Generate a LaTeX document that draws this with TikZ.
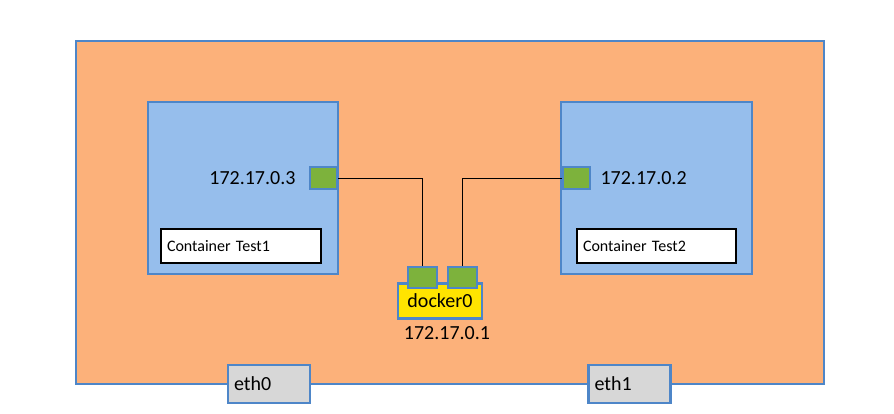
\documentclass[tikz,border=0pt]{standalone}
\usepackage{fontspec}
\setmainfont{Carlito}
\usetikzlibrary{positioning}

\definecolor{hostorange}{RGB}{252,177,122}
\definecolor{edgeblue}{RGB}{78,134,200}
\definecolor{boxblue}{RGB}{150,190,236}
\definecolor{portgreen}{RGB}{125,178,60}
\definecolor{bridgeyellow}{RGB}{255,228,0}
\definecolor{ethgrey}{RGB}{215,215,215}

\begin{document}
\begin{tikzpicture}[x=1pt, y=-1pt,
    every node/.style={font=\fontsize{20}{24}\selectfont},
    hostbox/.style={rectangle, draw=edgeblue, line width=2.5pt, fill=hostorange},
    ctbox/.style={rectangle, draw=edgeblue, line width=2.5pt, fill=boxblue, minimum width=190pt, minimum height=172pt},
    namebox/.style={rectangle, draw=black, line width=2.5pt, fill=white, minimum height=34pt, text width=148pt, inner xsep=6pt, align=left, font=\fontsize{16}{19}\selectfont},
    port/.style={rectangle, draw=edgeblue, line width=2pt, fill=portgreen, minimum width=27pt, minimum height=22pt, inner sep=0pt},
    ethbox/.style={rectangle, draw=edgeblue, line width=2.5pt, fill=ethgrey, minimum height=38pt, text width=70pt, inner xsep=6pt, align=left},
    wire/.style={draw=black, line width=1pt}]
    \useasboundingbox (0,0) rectangle (894,414);
    \fill[white] (0,0) rectangle (894,414);

    % host
    \node (host) [hostbox, minimum width=748pt, minimum height=343pt] at (450,212.5) {};

    % containers
    \node (ct1) [ctbox] at (243,188) {};
    \node (ct2) [ctbox, minimum width=191pt] at (656.5,188) {};
    \node (name1) [namebox] at (241,246) {Container Test1};
    \node (name2) [namebox, text width=147pt] at (656.5,246) {Container Test2};

    % veth ports
    \node (veth1) [port] at (323.5,178.5) {};
    \node (veth2) [port] at (576.5,178.5) {};
    \node (ip1) [left=10pt of veth1] {172.17.0.3};
    \node (ip2) [right=6pt of veth2] {172.17.0.2};

    % bridge
    \node (docker) [rectangle, draw=edgeblue, line width=2.5pt, fill=bridgeyellow, minimum width=84pt, minimum height=35pt, inner sep=0pt] at (440,301) {docker0};
    \node (br1) [port, minimum width=29pt, minimum height=21pt] at (422.5,277.5) {};
    \node (br2) [port, minimum width=29pt, minimum height=21pt] at (462.5,277.5) {};
    \node (ip0) at (447,333) {172.17.0.1};

    \draw[wire] (veth1.east) -| (br1.north);
    \draw[wire] (veth2.west) -| (br2.north);

    % host interfaces
    \node (eth0) [ethbox] at (269,384) {eth0};
    \node (eth1) [ethbox] at (629.5,384) {eth1};
\end{tikzpicture}
\end{document}
